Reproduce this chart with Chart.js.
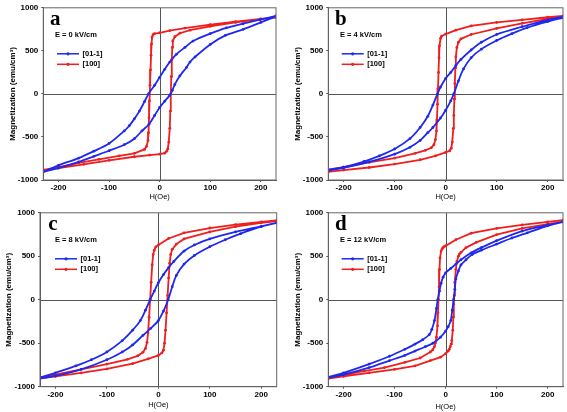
<!DOCTYPE html>
<html>
<head>
<meta charset="utf-8">
<script src="https://cdn.jsdelivr.net/npm/chart.js@4.4.1/dist/chart.umd.min.js"></script>
<style>
html,body{margin:0;padding:0;background:#fff;}
#wrap{position:relative;width:567px;height:412px;overflow:hidden;background:#fff;}
canvas{position:absolute;}
</style>
</head>
<body>
<div id="wrap">
<canvas id="ca"></canvas>
<canvas id="cb"></canvas>
<canvas id="cc"></canvas>
<canvas id="cd"></canvas>
</div>
<script>
// ---------- tick labels ----------
const xTickValues = [-200, -100, 0, 100, 200];
const yTickValues = [-1000, -500, 0, 500, 1000];
const seriesNames = ['[01-1]', '[100]'];
const panelLetters = ['a', 'b', 'c', 'd'];
const fieldLabels = ['E = 0 kV/cm', 'E = 4 kV/cm', 'E = 8 kV/cm', 'E = 12 kV/cm'];

// ---------- panel a (E = 0) : [H (Oe), M (emu/cm3)] ----------
const aBlueDown = [[230,905],[198,862],[165,815],[132,767],[100,700],[66,614],[50,540],[33,460],[20,370],[10,285],[0,192],[-10,100],[-22,0],[-30,-90],[-40,-200],[-50,-290],[-60,-370],[-70,-430],[-100,-575],[-130,-665],[-160,-745],[-200,-830],[-230,-905]];
const aBlueUp = [[-230,-905],[-200,-862],[-160,-790],[-130,-725],[-100,-660],[-70,-590],[-50,-520],[-35,-430],[-21,-352],[-10,-250],[0,-157],[10,-85],[20,-15],[25,40],[30,110],[40,210],[53,307],[60,370],[70,430],[100,575],[130,680],[165,750],[200,830],[230,900]];
const aRedDown = [[230,888],[200,870],[150,838],[100,805],[50,765],[20,735],[0,710],[-10,700],[-13,688],[-15,660],[-16,580],[-17,450],[-18,280],[-19,100],[-20,-80],[-21,-280],[-22,-450],[-23,-540],[-26,-610],[-30,-645],[-50,-690],[-80,-720],[-120,-760],[-160,-800],[-200,-850],[-230,-882]];
const aRedUp = [[-230,-882],[-200,-862],[-150,-818],[-100,-772],[-50,-730],[-20,-710],[0,-700],[10,-688],[14,-665],[16,-640],[18,-560],[20,-400],[21,-200],[22,0],[23,200],[24,400],[25,540],[26,615],[30,665],[40,705],[60,740],[100,785],[150,830],[200,868],[230,888]];

// ---------- panel b (E = 4) ----------
const bBlueDown = [[230,895],[200,860],[150,780],[100,690],[70,600],[50,510],[30,400],[20,330],[10,250],[0,180],[-10,80],[-16,0],[-25,-130],[-35,-260],[-50,-390],[-70,-520],[-100,-640],[-130,-720],[-160,-785],[-200,-850],[-230,-885]];
const bBlueUp = [[-230,-890],[-200,-860],[-150,-790],[-100,-700],[-70,-620],[-50,-540],[-35,-450],[-25,-390],[-10,-280],[0,-190],[10,-80],[16,0],[25,150],[35,290],[50,420],[70,520],[100,620],[130,700],[160,770],[200,840],[230,885]];
const bRedDown = [[230,905],[200,890],[150,860],[100,830],[50,790],[20,740],[0,695],[-8,670],[-10,645],[-12,560],[-13,420],[-14,250],[-15,60],[-16,-120],[-17,-300],[-18,-430],[-20,-530],[-23,-590],[-28,-625],[-40,-655],[-60,-690],[-100,-745],[-150,-795],[-200,-850],[-230,-880]];
const bRedUp = [[-230,-905],[-200,-885],[-150,-855],[-100,-815],[-50,-765],[-20,-720],[0,-680],[8,-660],[11,-630],[13,-560],[15,-400],[16,-250],[17,-60],[18,120],[19,300],[20,430],[22,540],[25,600],[30,640],[50,690],[100,760],[150,820],[200,870],[230,888]];

// ---------- panel c (E = 8) ----------
const cBlueDown = [[230,885],[200,845],[150,780],[100,700],[70,630],[50,560],[30,440],[20,370],[10,290],[0,195],[-8,100],[-16,0],[-25,-120],[-35,-240],[-50,-350],[-70,-470],[-100,-600],[-130,-690],[-160,-760],[-200,-840],[-230,-900]];
const cBlueUp = [[-230,-905],[-200,-875],[-150,-800],[-100,-690],[-70,-600],[-50,-520],[-30,-410],[-15,-330],[0,-240],[10,-130],[19,0],[27,150],[35,280],[50,410],[70,510],[100,610],[130,690],[160,760],[200,840],[230,885]];
const cRedDown = [[230,912],[200,895],[150,865],[100,825],[50,770],[20,705],[0,630],[-5,608],[-8,570],[-10,520],[-12,400],[-14,200],[-16,0],[-18,-200],[-20,-380],[-22,-490],[-25,-560],[-30,-605],[-40,-645],[-60,-685],[-100,-740],[-150,-800],[-200,-860],[-230,-890]];
const cRedUp = [[-230,-905],[-200,-882],[-150,-842],[-100,-795],[-50,-735],[-20,-680],[0,-640],[7,-610],[10,-580],[12,-500],[14,-350],[16,-150],[18,50],[20,250],[22,420],[24,520],[27,580],[35,640],[50,700],[100,780],[150,840],[200,885],[230,905]];

// ---------- panel d (E = 12) ----------
const dBlueDown = [[230,895],[200,860],[150,790],[100,680],[70,600],[50,540],[30,460],[20,410],[10,360],[0,310],[-5,260],[-9,190],[-12,100],[-15.5,0],[-18,-100],[-22,-240],[-27,-340],[-32,-400],[-45,-460],[-60,-510],[-80,-570],[-110,-650],[-150,-740],[-200,-840],[-230,-890]];
const dBlueUp = [[-230,-895],[-200,-860],[-150,-780],[-110,-700],[-80,-640],[-60,-590],[-40,-540],[-25,-500],[-10,-430],[0,-360],[5,-310],[10,-240],[13,-120],[15.5,0],[18,120],[20,240],[25,330],[30,400],[40,460],[52,520],[70,570],[100,640],[130,710],[160,770],[200,850],[230,895]];
const dRedDown = [[230,915],[200,895],[150,860],[100,820],[50,765],[20,690],[0,620],[-3,612],[-5,600],[-7,585],[-9,560],[-11,480],[-12,350],[-13,150],[-14,0],[-15,-150],[-16,-300],[-18,-430],[-20,-495],[-22,-540],[-25,-575],[-30,-600],[-50,-670],[-80,-720],[-120,-780],[-160,-820],[-200,-860],[-230,-890]];
const dRedUp = [[-230,-905],[-200,-880],[-150,-840],[-100,-800],[-60,-760],[-30,-700],[-10,-660],[0,-620],[5,-590],[7,-570],[9,-540],[10.5,-510],[12,-470],[14,-350],[15,-200],[16,-50],[17,50],[18,200],[20,350],[22,440],[25,500],[27,525],[30,545],[40,600],[60,660],[100,750],[150,820],[200,870],[230,895]];

const loops = [
  [aBlueDown, aBlueUp, aRedDown, aRedUp],
  [bBlueDown, bBlueUp, bRedDown, bRedUp],
  [cBlueDown, cBlueUp, cRedDown, cRedUp],
  [dBlueDown, dBlueUp, dRedDown, dRedUp]
];

// ---------- layout / style (not data) ----------
const BLUE = '#1e28f0';
const RED = '#f01e1e';
const layoutSpec = [
  {id:'ca', left:0,   top:0,   w:283, h:205, padTop:6,   padRight:7,   yW:43.3, xH:25,   yTitlePad:7.5, xTitlePad:3.8, lx:6.7, ex:11.7, gx:13.7, ly:16.7},
  {id:'cb', left:284, top:0,   w:283, h:205, padTop:5.3, padRight:3.7, yW:44.3, xH:25,   yTitlePad:9.3, xTitlePad:3.8, lx:6.7, ex:11.7, gx:13.4, ly:16.7},
  {id:'cc', left:0,   top:205, w:283, h:207, padTop:6,   padRight:6.3, yW:40,   xH:25.3, yTitlePad:3.5, xTitlePad:2.5, lx:8.3, ex:15,   gx:15,   ly:17.3},
  {id:'cd', left:284, top:205, w:283, h:207, padTop:6,   padRight:2.7, yW:44.3, xH:25.3, yTitlePad:8.9, xTitlePad:1.0, lx:6.7, ex:11.7, gx:13.4, ly:16.7}
];

Chart.defaults.font.family = '"Liberation Sans", Arial, sans-serif';
Chart.defaults.color = '#000';

const toPts = arr => arr.map(p => ({x: p[0], y: p[1]}));

const panelDecor = {
  id: 'panelDecor',
  beforeDatasetsDraw(chart) {
    const {ctx, chartArea: a, scales} = chart;
    ctx.save();
    ctx.strokeStyle = '#555';
    ctx.lineWidth = 1;
    const x0 = Math.round(scales.x.getPixelForValue(0)) + 0.5;
    const y0 = Math.round(scales.y.getPixelForValue(0)) + 0.5;
    ctx.beginPath();
    ctx.moveTo(x0, a.top); ctx.lineTo(x0, a.bottom);
    ctx.moveTo(a.left, y0); ctx.lineTo(a.right, y0);
    ctx.stroke();
    ctx.restore();
  },
  afterDraw(chart, args, opts) {
    const {ctx, chartArea: a} = chart;
    ctx.save();
    ctx.strokeStyle = '#666';
    ctx.lineWidth = 1;
    ctx.strokeRect(a.left, a.top, a.right - a.left, a.bottom - a.top);
    ctx.fillStyle = '#000';
    ctx.textAlign = 'left';
    ctx.textBaseline = 'alphabetic';
    ctx.font = 'bold 21px "Liberation Serif", "DejaVu Serif", serif';
    ctx.fillText(opts.letter, a.left + opts.lx, a.top + opts.ly);
    ctx.textBaseline = 'middle';
    ctx.font = 'bold 7.5px "Liberation Sans", Arial, sans-serif';
    ctx.fillText(opts.field, a.left + opts.ex, a.top + 27);
    const rows = [a.top + 46, a.top + 56.5];
    chart.data.datasets.forEach((ds, i) => {
      const y = rows[i];
      const x1 = a.left + opts.gx, x2 = x1 + 22;
      ctx.strokeStyle = ds.borderColor;
      ctx.lineWidth = 1.5;
      ctx.beginPath(); ctx.moveTo(x1, y); ctx.lineTo(x2, y); ctx.stroke();
      ctx.fillStyle = ds.borderColor;
      ctx.beginPath(); ctx.arc((x1 + x2) / 2, y, 1.6, 0, Math.PI * 2); ctx.fill();
      ctx.fillStyle = '#000';
      ctx.fillText(ds.label, x2 + 3.5, y);
    });
    ctx.restore();
  }
};

layoutSpec.forEach((p, k) => {
  const cv = document.getElementById(p.id);
  cv.width = p.w; cv.height = p.h;
  cv.style.left = p.left + 'px'; cv.style.top = p.top + 'px';
  cv.style.width = p.w + 'px'; cv.style.height = p.h + 'px';
  const [bd, bu, rd, ru] = loops[k];
  new Chart(cv, {
    type: 'scatter',
    data: {
      datasets: [
        {label: seriesNames[0], data: toPts(bd.concat(bu)), borderColor: BLUE, backgroundColor: BLUE,
         showLine: true, borderWidth: 1.8, pointRadius: 1.4, pointStyle: 'circle', pointBorderWidth: 0, tension: 0.3},
        {label: seriesNames[1], data: toPts(rd.concat(ru)), borderColor: RED, backgroundColor: RED,
         showLine: true, borderWidth: 1.8, pointRadius: 1.4, pointStyle: 'circle', pointBorderWidth: 0, tension: 0}
      ]
    },
    options: {
      responsive: false,
      animation: false,
      devicePixelRatio: 1,
      layout: {padding: {top: p.padTop, right: p.padRight, left: 0, bottom: 0}},
      plugins: {
        legend: {display: false},
        tooltip: {enabled: false},
        panelDecor: {letter: panelLetters[k], field: fieldLabels[k], lx: p.lx, ex: p.ex, gx: p.gx, ly: p.ly}
      },
      scales: {
        x: {
          type: 'linear', min: -230, max: 230,
          afterBuildTicks: s => { s.ticks = xTickValues.map(v => ({value: v})); },
          afterFit: s => { s.height = p.xH; },
          ticks: {font: {size: 8, weight: 'bold'}, color: '#000', padding: 1, maxRotation: 0, autoSkip: false,
                  callback: v => String(v)},
          grid: {drawOnChartArea: false, drawTicks: true, tickLength: 2, tickColor: '#555'},
          border: {display: true, color: '#555'},
          title: {display: true, text: 'H(Oe)', font: {size: 7.5}, color: '#000', padding: {top: 0, bottom: p.xTitlePad}}
        },
        y: {
          type: 'linear', min: -1000, max: 1000,
          afterBuildTicks: s => { s.ticks = yTickValues.map(v => ({value: v})); },
          afterFit: s => { s.width = p.yW; },
          ticks: {font: {size: 8, weight: 'bold'}, color: '#000', padding: 3, autoSkip: false,
                  callback: v => String(v)},
          grid: {drawOnChartArea: false, drawTicks: true, tickLength: 2, tickColor: '#555'},
          border: {display: true, color: '#555'},
          title: {display: true, text: 'Magnetization (emu/cm³)', font: {size: 8, weight: 'bold'}, color: '#000',
                  padding: {top: p.yTitlePad, bottom: 0}}
        }
      }
    },
    plugins: [panelDecor]
  });
});
</script>
</body>
</html>
